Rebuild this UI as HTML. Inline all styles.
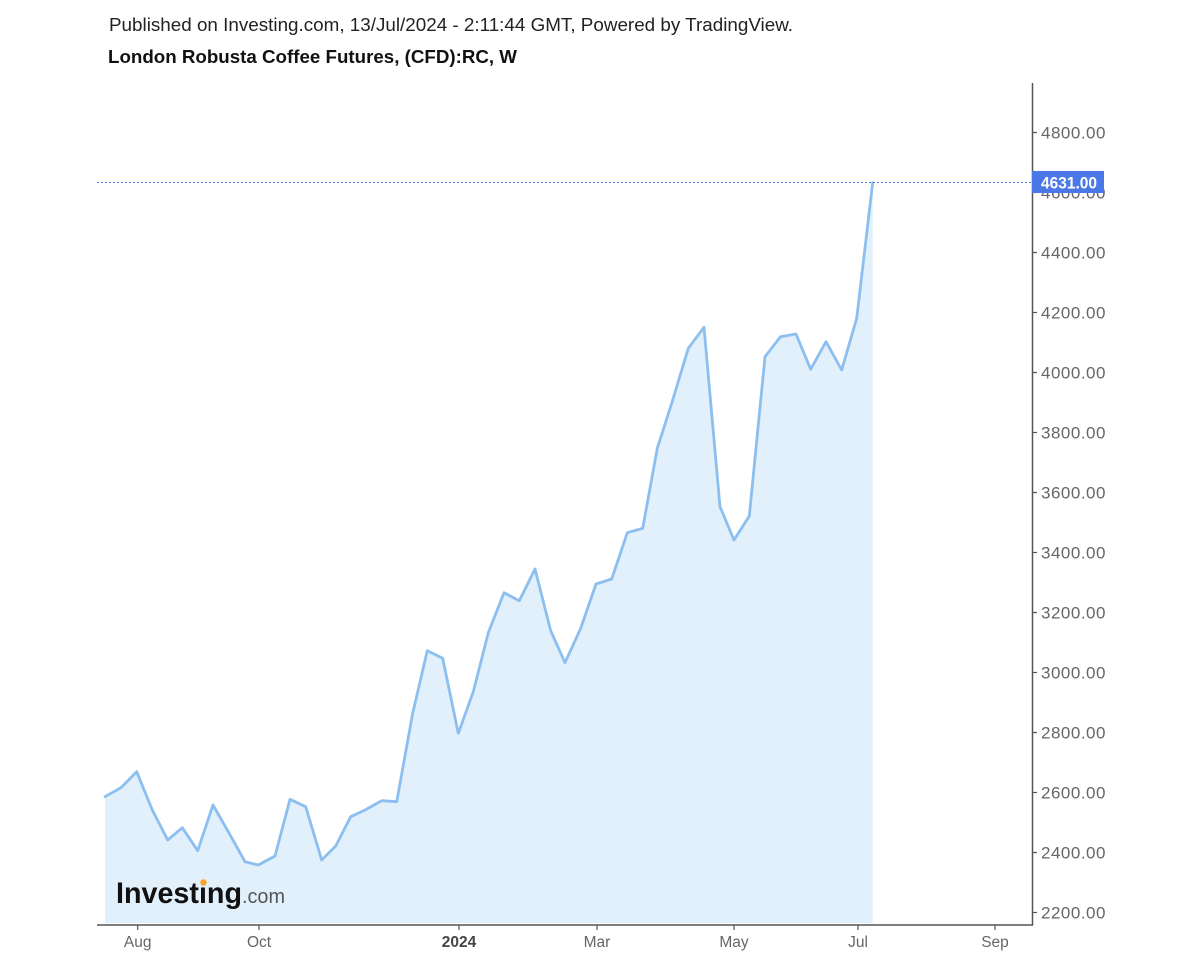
<!DOCTYPE html>
<html>
<head>
<meta charset="utf-8">
<style>
html,body{margin:0;padding:0;background:#fff;}
svg{display:block;}
</style>
</head>
<body>
<svg width="1200" height="960" viewBox="0 0 1200 960" xmlns="http://www.w3.org/2000/svg">
<rect width="1200" height="960" fill="#ffffff"/>
<text x="109" y="31" font-family="Liberation Sans, Arial, sans-serif" font-size="18.5" fill="#222" textLength="684" lengthAdjust="spacingAndGlyphs">Published on Investing.com, 13/Jul/2024 - 2:11:44 GMT, Powered by TradingView.</text>
<text x="108" y="63" font-family="Liberation Sans, Arial, sans-serif" font-size="18.5" font-weight="bold" fill="#111" textLength="409" lengthAdjust="spacingAndGlyphs">London Robusta Coffee Futures, (CFD):RC, W</text>

<polygon fill="#e1f0fa" points="105,923 105,796.7 121,787.7 136.7,771.7 152.3,810 167.7,840 182.3,827.7 197.7,850.7 213,805 229,833 245,861.7 258.3,865 275,856 290,799.3 305.7,806.7 321.7,860 335.7,846 350.7,816.7 365,810 381.7,800.7 396.7,801.7 412.7,713.3 427.3,650.7 442.7,658.3 458.3,733.3 473.3,691.7 488.3,632.7 504,592.7 519.3,600.7 535,569 550.7,630.7 565,662.7 580.7,628.3 596,584 611.7,579 627.3,532.7 642.7,528.3 657.3,448.3 672.7,400 688.3,348.3 704,327.3 720,506.7 734,540 749.3,516 765,356.7 780.5,336.7 796,334 810.7,369.3 826,341.7 841.7,370 856.7,318.3 872.7,182.5 872.7,923"/>

<g font-family="Liberation Sans, Arial, sans-serif">
<text x="116" y="903" font-size="30" font-weight="bold" fill="#111" textLength="126" lengthAdjust="spacingAndGlyphs">Investing</text>
<text x="242" y="903" font-size="20" fill="#555" textLength="43" lengthAdjust="spacingAndGlyphs">.com</text>
<circle cx="203.5" cy="882.5" r="3.2" fill="#f5a623"/>
</g>

<polyline fill="none" stroke="#8cbff0" stroke-width="2.8" stroke-linejoin="round" stroke-linecap="round" points="105,796.7 121,787.7 136.7,771.7 152.3,810 167.7,840 182.3,827.7 197.7,850.7 213,805 229,833 245,861.7 258.3,865 275,856 290,799.3 305.7,806.7 321.7,860 335.7,846 350.7,816.7 365,810 381.7,800.7 396.7,801.7 412.7,713.3 427.3,650.7 442.7,658.3 458.3,733.3 473.3,691.7 488.3,632.7 504,592.7 519.3,600.7 535,569 550.7,630.7 565,662.7 580.7,628.3 596,584 611.7,579 627.3,532.7 642.7,528.3 657.3,448.3 672.7,400 688.3,348.3 704,327.3 720,506.7 734,540 749.3,516 765,356.7 780.5,336.7 796,334 810.7,369.3 826,341.7 841.7,370 856.7,318.3 872.7,182.5"/>

<!-- axes -->
<line x1="1032.5" y1="83" x2="1032.5" y2="925.5" stroke="#555" stroke-width="1.5"/>
<line x1="97" y1="925" x2="1033" y2="925" stroke="#555" stroke-width="1.5"/>

<!-- y ticks -->
<g stroke="#555" stroke-width="1.2">
<line x1="1032" y1="132.5" x2="1037" y2="132.5"/>
<line x1="1032" y1="192.5" x2="1037" y2="192.5"/>
<line x1="1032" y1="252.5" x2="1037" y2="252.5"/>
<line x1="1032" y1="312.5" x2="1037" y2="312.5"/>
<line x1="1032" y1="372.5" x2="1037" y2="372.5"/>
<line x1="1032" y1="432.5" x2="1037" y2="432.5"/>
<line x1="1032" y1="492.5" x2="1037" y2="492.5"/>
<line x1="1032" y1="552.5" x2="1037" y2="552.5"/>
<line x1="1032" y1="612.5" x2="1037" y2="612.5"/>
<line x1="1032" y1="672.5" x2="1037" y2="672.5"/>
<line x1="1032" y1="732.5" x2="1037" y2="732.5"/>
<line x1="1032" y1="792.5" x2="1037" y2="792.5"/>
<line x1="1032" y1="852.5" x2="1037" y2="852.5"/>
<line x1="1032" y1="912.5" x2="1037" y2="912.5"/>
</g>
<g font-family="Liberation Sans, Arial, sans-serif" font-size="17" fill="#666" letter-spacing="0.5">
<text x="1041" y="138.5">4800.00</text>
<text x="1041" y="198.5">4600.00</text>
<text x="1041" y="258.5">4400.00</text>
<text x="1041" y="318.5">4200.00</text>
<text x="1041" y="378.5">4000.00</text>
<text x="1041" y="438.5">3800.00</text>
<text x="1041" y="498.5">3600.00</text>
<text x="1041" y="558.5">3400.00</text>
<text x="1041" y="618.5">3200.00</text>
<text x="1041" y="678.5">3000.00</text>
<text x="1041" y="738.5">2800.00</text>
<text x="1041" y="798.5">2600.00</text>
<text x="1041" y="858.5">2400.00</text>
<text x="1041" y="918.5">2200.00</text>
</g>

<!-- current price -->
<line x1="97" y1="182.5" x2="1032" y2="182.5" stroke="#4a78e8" stroke-width="1" stroke-dasharray="2,2"/>
<rect x="1032" y="171" width="72" height="22" fill="#4a78e8"/>
<text x="1041" y="188.5" font-family="Liberation Sans, Arial, sans-serif" font-size="17" font-weight="bold" fill="#fff" textLength="56" lengthAdjust="spacingAndGlyphs">4631.00</text>

<!-- x ticks -->
<g stroke="#555" stroke-width="1.2">
<line x1="137.7" y1="925" x2="137.7" y2="930"/>
<line x1="259" y1="925" x2="259" y2="930"/>
<line x1="459" y1="925" x2="459" y2="930"/>
<line x1="597" y1="925" x2="597" y2="930"/>
<line x1="734" y1="925" x2="734" y2="930"/>
<line x1="858" y1="925" x2="858" y2="930"/>
<line x1="995" y1="925" x2="995" y2="930"/>
</g>
<g font-family="Liberation Sans, Arial, sans-serif" font-size="15.5" fill="#666" text-anchor="middle">
<text x="137.7" y="947">Aug</text>
<text x="259" y="947">Oct</text>
<text x="459" y="947" font-weight="bold" fill="#444">2024</text>
<text x="597" y="947">Mar</text>
<text x="734" y="947">May</text>
<text x="858" y="947">Jul</text>
<text x="995" y="947">Sep</text>
</g>
</svg>
</body>
</html>
